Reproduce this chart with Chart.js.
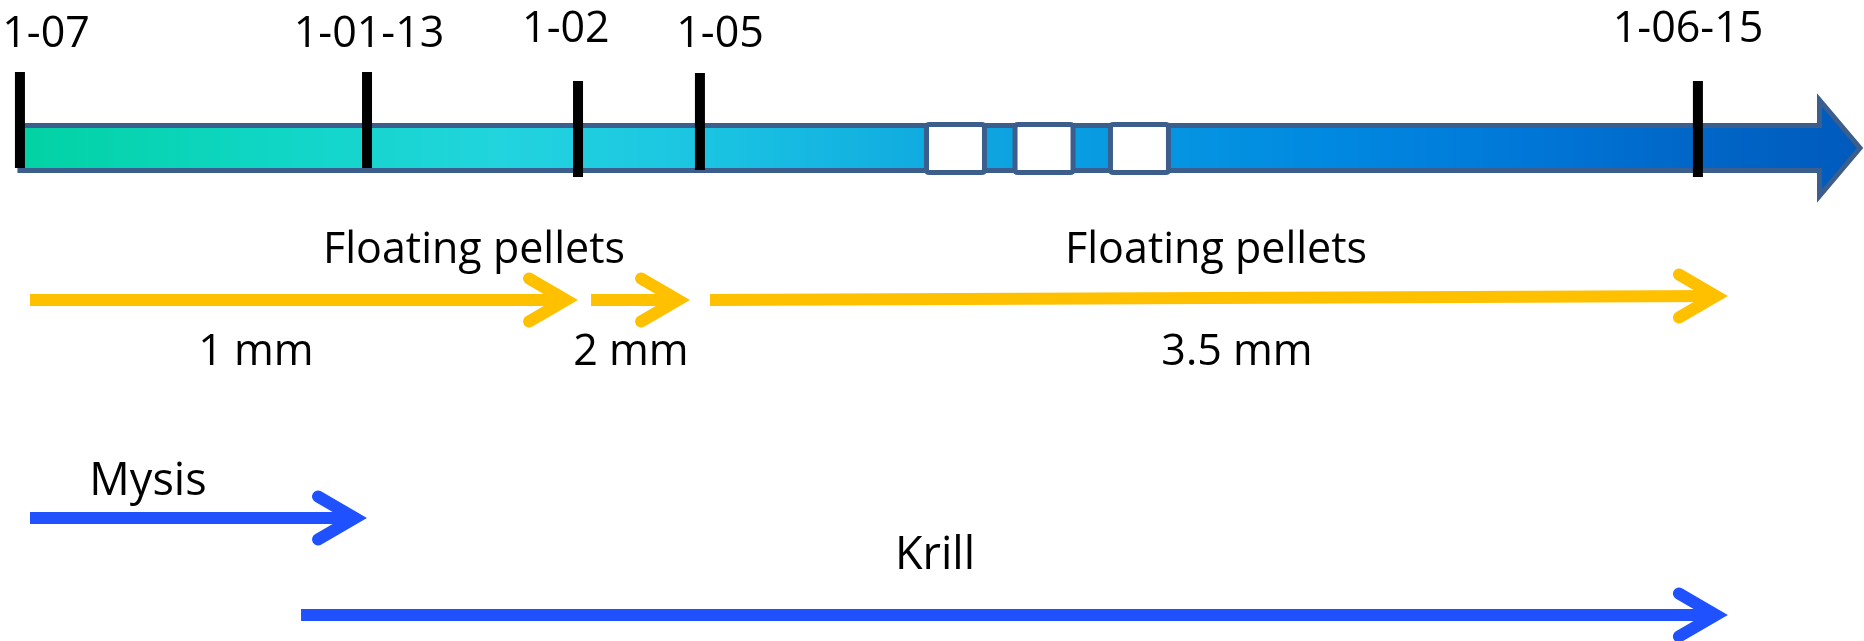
<!DOCTYPE html>
<html>
<head>
<meta charset="utf-8">
<title>Feeding schedule timeline</title>
<script src="https://cdn.jsdelivr.net/npm/chart.js@4.4.1/dist/chart.umd.min.js"></script>
<style>
  html, body { margin: 0; padding: 0; background: #ffffff; }
  #wrap { width: 1864px; height: 641px; }
  canvas { display: block; }
</style>
</head>
<body>
<div id="wrap"><canvas id="timeline" width="1864" height="641"></canvas></div>
<script>
// Timeline track runs 0..100 horizontally; rows run 0 (top) .. 100 (bottom).

// Date marks on the timeline
const tickLabels = ['1-07', '1-01-13', '1-02', '1-05', '1-06-15'];
const tickAt = [1.07, 19.69, 31.01, 37.55, 91.09];
const tickTop = [11.23, 11.23, 12.64, 11.39, 12.64];
const tickBottom = [26.21, 26.21, 27.61, 26.52, 27.61];
const labelAt = [2.47, 19.80, 30.36, 38.63, 90.56];
const labelRow = [7.33, 7.33, 6.55, 7.33, 6.55];

// Timeline band and its breaks
const timelineRow = 23.09;
const timelineEnd = 100;
const breaksAt = [51.26, 56.01, 61.13];

// Floating pellet periods
const pelletSizes = ['1 mm', '2 mm', '3.5 mm'];
const pelletFrom = [1.61, 31.71, 38.09];
const pelletTo = [31.01, 37.02, 92.70];
const pelletRowStart = [46.80, 46.80, 46.80];
const pelletRowEnd = [46.80, 46.80, 46.18];
const sizeLabelAt = [13.73, 33.85, 66.36];
const sizeLabelRow = 56.94;
const pelletTitle = 'Floating pellets';
const pelletTitleAt = [25.43, 65.24];
const pelletTitleRow = 41.03;

// Live / frozen prey periods
const preyNames = ['Mysis', 'Krill'];
const preyFrom = [1.61, 16.15];
const preyTo = [19.69, 92.70];
const preyRow = [80.81, 95.94];
const preyLabelAt = [7.94, 50.16];
const preyLabelRow = [77.22, 88.77];

// Styles
const STYLE = {
  bandHalf: 22.5,
  bandBorder: '#3B5E8C',
  bandBorderWidth: 5,
  headLen: 40.5,
  headHalf: 48,
  bandStops: [
    [0.00, '#00D2A0'], [0.15, '#10D6C6'], [0.27, '#22D4DE'], [0.38, '#1BC4E2'],
    [0.50, '#10AAE0'], [0.60, '#0799E2'], [0.72, '#0088E0'], [0.82, '#0077D8'],
    [0.90, '#0068C9'], [1.00, '#005ABC']
  ],
  breakW: 58, breakH: 48, breakRadius: 3,
  tickColor: '#000000', tickWidth: 10,
  pelletColor: '#FFC000', preyColor: '#1F51FF',
  shaftWidth: 12, armBack: 49, armHalf: 21.5, vertexInset: 12,
  font: '43px "Open Sans", "Liberation Sans", sans-serif',
  preyFont: '45px "Open Sans", "Liberation Sans", sans-serif',
  textColor: '#000000'
};

// Tick datasets: one vertical segment per date mark
const tickDatasets = tickAt.map((x, i) => ({
  label: tickLabels[i],
  data: [{ x: x, y: tickTop[i] }, { x: x, y: tickBottom[i] }],
  showLine: true,
  borderColor: STYLE.tickColor,
  borderWidth: STYLE.tickWidth,
  borderCapStyle: 'butt',
  pointRadius: 0,
  pointHoverRadius: 0
}));

function roundRect(ctx, x, y, w, h, r) {
  ctx.beginPath();
  ctx.moveTo(x + r, y);
  ctx.lineTo(x + w - r, y);
  ctx.quadraticCurveTo(x + w, y, x + w, y + r);
  ctx.lineTo(x + w, y + h - r);
  ctx.quadraticCurveTo(x + w, y + h, x + w - r, y + h);
  ctx.lineTo(x + r, y + h);
  ctx.quadraticCurveTo(x, y + h, x, y + h - r);
  ctx.lineTo(x, y + r);
  ctx.quadraticCurveTo(x, y, x + r, y);
  ctx.closePath();
}

function drawArrow(ctx, sx, x1, y1, x2, y2, color) {
  const tipX = x2;
  const vx = tipX - STYLE.vertexInset;
  const slope = (y2 - y1) / (x2 - x1);
  const vy = y2 - slope * STYLE.vertexInset;
  ctx.save();
  ctx.strokeStyle = color;
  // shaft
  ctx.lineWidth = STYLE.shaftWidth;
  ctx.lineCap = 'butt';
  ctx.beginPath();
  ctx.moveTo(x1, y1);
  ctx.lineTo(vx, vy);
  ctx.stroke();
  // open head
  ctx.lineCap = 'round';
  ctx.lineJoin = 'miter';
  ctx.miterLimit = 10;
  ctx.beginPath();
  ctx.moveTo(vx - (STYLE.armBack - STYLE.vertexInset), vy - STYLE.armHalf);
  ctx.lineTo(vx, vy);
  ctx.lineTo(vx - (STYLE.armBack - STYLE.vertexInset), vy + STYLE.armHalf);
  ctx.stroke();
  ctx.restore();
}

function drawText(ctx, text, x, y, font) {
  ctx.save();
  ctx.font = font;
  ctx.fillStyle = STYLE.textColor;
  ctx.textAlign = 'center';
  ctx.textBaseline = 'alphabetic';
  ctx.fillText(text, x, y);
  ctx.restore();
}

const timelinePlugin = {
  id: 'timelineBand',
  beforeDatasetsDraw(chart) {
    const { ctx, chartArea, scales: { x, y } } = chart;
    const cy = y.getPixelForValue(timelineRow);
    const x0 = x.getPixelForValue(tickAt[0]);
    const xEnd = x.getPixelForValue(timelineEnd) - STYLE.bandBorderWidth / 2 - 1.5;
    const headStart = xEnd - STYLE.headLen;
    const top = cy - STYLE.bandHalf, bot = cy + STYLE.bandHalf;

    const grad = ctx.createLinearGradient(chartArea.left, 0, chartArea.right, 0);
    STYLE.bandStops.forEach(([o, c]) => grad.addColorStop(o, c));

    ctx.save();
    ctx.beginPath();
    ctx.moveTo(x0, top);
    ctx.lineTo(headStart, top);
    ctx.lineTo(headStart, cy - STYLE.headHalf);
    ctx.lineTo(xEnd, cy);
    ctx.lineTo(headStart, cy + STYLE.headHalf);
    ctx.lineTo(headStart, bot);
    ctx.lineTo(x0, bot);
    ctx.closePath();
    ctx.fillStyle = grad;
    ctx.fill();
    ctx.lineJoin = 'miter';
    ctx.lineWidth = STYLE.bandBorderWidth;
    ctx.strokeStyle = STYLE.bandBorder;
    ctx.stroke();

    // breaks in the timeline
    breaksAt.forEach(b => {
      const bx = x.getPixelForValue(b);
      roundRect(ctx, bx - STYLE.breakW / 2, cy - STYLE.breakH / 2 + 0.5, STYLE.breakW, STYLE.breakH, STYLE.breakRadius);
      ctx.fillStyle = '#ffffff';
      ctx.fill();
      ctx.lineWidth = STYLE.bandBorderWidth;
      ctx.strokeStyle = STYLE.bandBorder;
      ctx.stroke();
    });
    ctx.restore();
  },
  afterDatasetsDraw(chart) {
    const { ctx, scales: { x, y } } = chart;

    // date labels
    tickLabels.forEach((t, i) => {
      drawText(ctx, t, x.getPixelForValue(labelAt[i]), y.getPixelForValue(labelRow[i]), STYLE.font);
    });

    // pellet arrows
    pelletSizes.forEach((s, i) => {
      drawArrow(ctx, x,
        x.getPixelForValue(pelletFrom[i]), y.getPixelForValue(pelletRowStart[i]),
        x.getPixelForValue(pelletTo[i]), y.getPixelForValue(pelletRowEnd[i]),
        STYLE.pelletColor);
      drawText(ctx, s, x.getPixelForValue(sizeLabelAt[i]), y.getPixelForValue(sizeLabelRow), STYLE.font);
    });
    pelletTitleAt.forEach(p => {
      drawText(ctx, pelletTitle, x.getPixelForValue(p), y.getPixelForValue(pelletTitleRow), STYLE.font);
    });

    // prey arrows
    preyNames.forEach((n, i) => {
      drawArrow(ctx, x,
        x.getPixelForValue(preyFrom[i]), y.getPixelForValue(preyRow[i]),
        x.getPixelForValue(preyTo[i]), y.getPixelForValue(preyRow[i]),
        STYLE.preyColor);
      drawText(ctx, n, x.getPixelForValue(preyLabelAt[i]), y.getPixelForValue(preyLabelRow[i]), STYLE.preyFont);
    });
  }
};

new Chart(document.getElementById('timeline'), {
  type: 'scatter',
  data: { datasets: tickDatasets },
  options: {
    responsive: false,
    animation: false,
    devicePixelRatio: 1,
    layout: { padding: 0 },
    events: [],
    plugins: { legend: { display: false }, tooltip: { enabled: false }, title: { display: false } },
    scales: {
      x: { type: 'linear', min: 0, max: 100, display: false },
      y: { type: 'linear', min: 0, max: 100, reverse: true, display: false }
    }
  },
  plugins: [timelinePlugin]
});
</script>
</body>
</html>
